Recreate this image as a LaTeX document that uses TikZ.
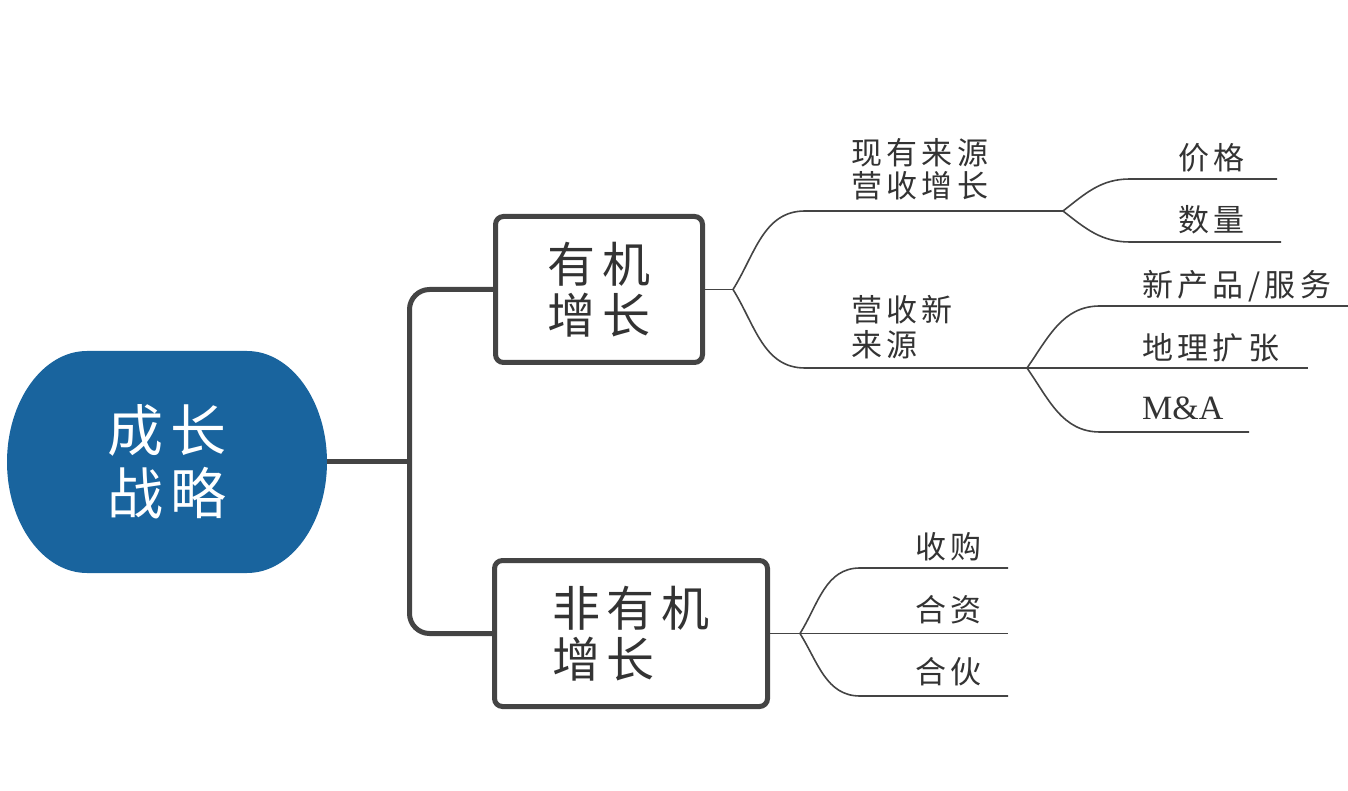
\documentclass[tikz,border=0pt]{standalone}
\usepackage{fontspec}
\newfontfamily\cjk[LetterSpace=14]{Noto Sans CJK SC}
\newfontfamily\lat{Liberation Serif}
\definecolor{rootblue}{HTML}{19649E}
\definecolor{ink}{HTML}{444444}
\definecolor{txt}{HTML}{333333}
\begin{document}
\begin{tikzpicture}[x=1pt,y=1pt,
 thickline/.style={draw=ink, line width=5pt},
 thinline/.style={draw=ink, line width=1.6pt},
 boxnode/.style={draw=ink, line width=5pt, rounded corners=8pt, fill=white, align=left, text=txt,
   font=\cjk\fontsize{48}{51}\selectfont, minimum height=146pt, inner sep=0pt},
 lab/.style={anchor=north west, inner sep=0pt, align=left, text=txt, font=\cjk\fontsize{31}{33}\selectfont},
]
\useasboundingbox (0,0) rectangle (1348,790);
% root shape
\fill[rootblue] (87,439) -- (247,439) .. controls (291,439) and (327,389) .. (327,328)
  .. controls (327,267) and (291,217) .. (247,217) -- (87,217)
  .. controls (43,217) and (7,267) .. (7,328) .. controls (7,389) and (43,439) .. (87,439) -- cycle;
\node[minimum width=320pt, minimum height=222pt, inner sep=0pt, text=white, align=center,
  font=\cjk\fontsize{56}{63}\selectfont] (root) at (167,328) {成长\\战略};
% boxes positions
\coordinate (trunk) at (409.5,328);
\path (599,500.5) coordinate (b1c) (631,156.5) coordinate (b2c);
% thick connectors
\draw[thickline] (root.east) -- (trunk);
\draw[thickline, rounded corners=20pt] (495,500.5) -| (trunk) |- (495,156.5);
\node[boxnode, minimum width=207pt] (b1) at (b1c) {有机\\增长};
\node[boxnode, minimum width=273pt] (b2) at (b2c) {非有机\\增长};
% coordinates for thin branches
\coordinate (j1) at (733,500.5);
\coordinate (c1u) at (805,579);
\coordinate (e1u) at (1063,579);
\coordinate (c1d) at (805,422);
\coordinate (e1d) at (1027,422);
\coordinate (c2u) at (1130,611);
\coordinate (e2u) at (1277,611);
\coordinate (c2d) at (1130,548);
\coordinate (e2d) at (1281,548);
\coordinate (c3u) at (1100,484);
\coordinate (e3u) at (1348,484);
\coordinate (e3m) at (1308,422);
\coordinate (c3d) at (1100,358);
\coordinate (e3d) at (1249,358);
\coordinate (j2) at (800,156.5);
\coordinate (c4u) at (860,222);
\coordinate (e4u) at (1008,222);
\coordinate (e4m) at (1008,156.5);
\coordinate (c4d) at (860,94);
\coordinate (e4d) at (1008,94);
% thin connectors
\draw[thinline] (b1.east) -- (j1);
\draw[thinline] (j1) to[out=58,in=180] (c1u) -- (e1u);
\draw[thinline] (j1) to[out=-58,in=180] (c1d) -- (e1d);
\draw[thinline] (e1u) to[out=38,in=180] (c2u) -- (e2u);
\draw[thinline] (e1u) to[out=-38,in=180] (c2d) -- (e2d);
\draw[thinline] (e1d) to[out=55,in=180] (c3u) -- (e3u);
\draw[thinline] (e1d) -- (e3m);
\draw[thinline] (e1d) to[out=-55,in=180] (c3d) -- (e3d);
\draw[thinline] (b2.east) -- (j2);
\draw[thinline] (j2) to[out=58,in=180] (c4u) -- (e4u);
\draw[thinline] (j2) -- (e4m);
\draw[thinline] (j2) to[out=-58,in=180] (c4d) -- (e4d);
% labels
\node[lab] (l1) at (851,652) {现有来源\\营收增长};
\node[lab] (l2) at (851,495) {营收新\\[2pt]来源};
\node[lab] (p1) at (1178,647) {价格};
\node[lab] (p2) at (1178,585) {数量};
\node[lab] (n1) at (1142,520) {新产品/服务};
\node[lab] (n2) at (1142,457) {地理扩张};
\node[lab, font=\lat\fontsize{34}{36}\selectfont] (n3) at (1142,393) {M\&A};
\node[lab] (a1) at (915,258) {收购};
\node[lab] (a2) at (915,195) {合资};
\node[lab] (a3) at (915,133) {合伙};
\end{tikzpicture}
\end{document}
